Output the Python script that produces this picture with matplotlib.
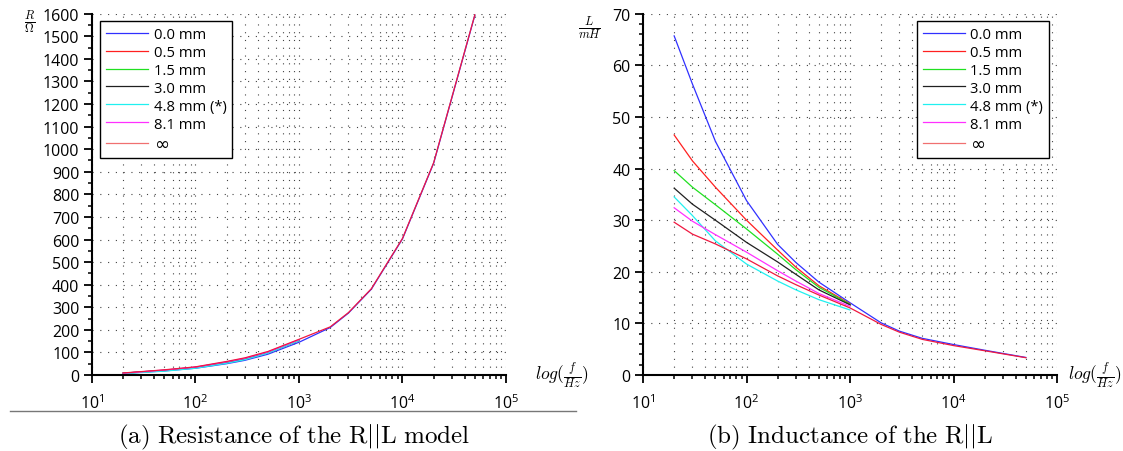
import matplotlib
matplotlib.use('Agg')
import matplotlib.pyplot as plt
from matplotlib.lines import Line2D
from matplotlib.ticker import MultipleLocator, LogLocator

plt.rcParams['font.family'] = ['Open Sans', 'DejaVu Sans']
plt.rcParams['mathtext.fontset'] = 'cm'

# frequencies (Hz)
f_all = [20, 30, 50, 100, 200, 300, 500, 1000, 2000, 3000, 5000, 10000, 20000, 50000]

labels = ['0.0 mm', '0.5 mm', '1.5 mm', '3.0 mm', '4.8 mm (*)', '8.1 mm', '∞']
colors = ['#3030ff', '#ff2020', '#20e020', '#202020', '#20f0f0', '#ff30ff', '#f01840']

# resistance (Ohm)
R_00 = [7, 12, 18, 30, 50, 65, 92, 145, 210, 274, 380, 603, 938, 1593]
R_05 = [8, 13, 20, 33, 55, 70, 98, 152]
R_15 = [8, 13, 20, 33, 55, 71, 99, 153]
R_30 = [8, 14, 21, 34, 57, 72, 100, 154]
R_48 = [6, 11, 17, 30, 52, 68, 97, 152]
R_81 = [8, 14, 22, 35, 58, 74, 102, 156]
R_inf = [9, 15, 23, 36, 60, 76, 104, 158, 213, 276, 382, 605, 940, 1595]

# inductance (mH)
L_00 = [65.7, 56.4, 45.3, 33.8, 25.3, 21.8, 18.0, 14.0, 10.1, 8.5, 7.1, 5.9, 4.8, 3.4]
L_05 = [46.5, 41.5, 36.4, 30.0, 24.2, 20.9, 17.3, 13.8]
L_15 = [39.6, 36.4, 33.0, 28.3, 23.4, 20.4, 17.0, 13.7]
L_30 = [36.2, 33.1, 30.0, 25.7, 21.9, 19.5, 16.5, 13.6]
L_48 = [34.5, 30.9, 26.0, 21.5, 18.2, 16.5, 14.6, 12.6]
L_81 = [32.4, 29.8, 27.2, 23.8, 20.2, 18.2, 15.8, 13.3]
L_inf = [29.6, 27.3, 25.4, 22.5, 19.2, 17.5, 15.5, 13.0, 9.8, 8.3, 6.9, 5.7, 4.7, 3.35]

R_series = [R_00, R_05, R_15, R_30, R_48, R_81, R_inf]
L_series = [L_00, L_05, L_15, L_30, L_48, L_81, L_inf]

fig = plt.figure(figsize=(11.23, 4.52), dpi=100)
ax1 = fig.add_axes([92 / 1123, 76 / 452, 414 / 1123, 361.3 / 452])
ax2 = fig.add_axes([643 / 1123, 76 / 452, 414 / 1123, 361.3 / 452])


def style_axis(ax, ymax, ymajor, yminor):
    ax.set_xscale('log')
    ax.set_xlim(10, 1e5)
    ax.set_ylim(0, ymax)
    ax.xaxis.set_major_locator(LogLocator(base=10))
    ax.xaxis.set_minor_locator(LogLocator(base=10, subs=range(2, 10)))
    ax.yaxis.set_major_locator(MultipleLocator(ymajor))
    ax.yaxis.set_minor_locator(MultipleLocator(yminor))
    for s in ['top', 'right']:
        ax.spines[s].set_visible(False)
    for s in ['left', 'bottom']:
        ax.spines[s].set_linewidth(1.5)
    ax.tick_params(which='major', length=6, width=1.3, labelsize=11.5, pad=3)
    ax.tick_params(axis='x', which='major', pad=7)
    ax.tick_params(which='minor', length=3, width=1.1)
    ax.grid(True, axis='x', which='both', linestyle=(0, (1, 6)), color='#444444', lw=0.8)
    ax.grid(True, axis='y', which='major', linestyle=(0, (1, 6)), color='#444444', lw=0.8)
    ax.set_axisbelow(True)


style_axis(ax1, 1600, 100, 50)
style_axis(ax2, 70, 10, 2)

for ys, lab, c in zip(R_series, labels, colors):
    ax1.plot(f_all[:len(ys)], ys, color=c, lw=0.9, label=lab)
for ys, lab, c in zip(L_series, labels, colors):
    ax2.plot(f_all[:len(ys)], ys, color=c, lw=0.9, label=lab)

leg_kw = dict(fontsize=10.6, frameon=True, fancybox=False, framealpha=1,
              edgecolor='black', handlelength=2.9, handletextpad=0.35,
              labelspacing=0.2, borderpad=0.4, borderaxespad=0)
leg1 = ax1.legend(loc='upper left', bbox_to_anchor=(0.019, 0.98), **leg_kw)
leg2 = ax2.legend(loc='upper right', bbox_to_anchor=(0.981, 0.98), **leg_kw)
for leg in (leg1, leg2):
    leg.get_frame().set_linewidth(1.0)
    leg.get_texts()[-1].set_fontfamily('DejaVu Sans')
    leg.get_texts()[-1].set_fontsize(13)
    leg.get_lines()[-1].set_color('#f07070')

# axis labels
fig.text(30 / 1123, 1 - 22 / 452, r'$\frac{R}{\Omega}$', fontsize=12.5, ha='center', va='center')
fig.text(590 / 1123, 1 - 28 / 452, r'$\frac{L}{mH}$', fontsize=12.5, ha='center', va='center')
ax1.text(1.07, 0.0, r'$log(\frac{f}{Hz})$', transform=ax1.transAxes, fontsize=12.5,
         ha='left', va='center')
ax2.text(1.027, 0.0, r'$log(\frac{f}{Hz})$', transform=ax2.transAxes, fontsize=12.5,
         ha='left', va='center')

# captions
fig.add_artist(Line2D([10 / 1123, 576 / 1123], [1 - 412 / 452] * 2, color='#777777', lw=1))
fig.text(294 / 1123, 1 - 437 / 452, r'$\mathrm{(a)\ Resistance\ of\ the\ R||L\ model}$',
         fontsize=18, ha='center', va='center')
fig.text(850 / 1123, 1 - 437 / 452, r'$\mathrm{(b)\ Inductance\ of\ the\ R||L}$',
         fontsize=18, ha='center', va='center')

fig.savefig('out.png', dpi=100)
